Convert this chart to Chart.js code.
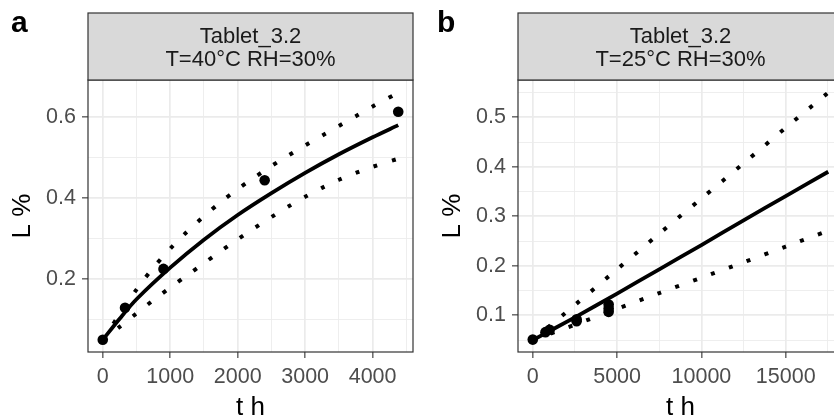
<!DOCTYPE html>
<html>
<head>
<meta charset="utf-8">
<script src="https://cdn.jsdelivr.net/npm/chart.js@4/dist/chart.umd.min.js"></script>
<style>
  html, body { margin: 0; padding: 0; background: #fff; overflow: hidden; width: 834px; height: 418px; }
  .panel { position: absolute; top: 0; width: 420px; height: 418px; }
  #wrapA { left: 0; }
  #wrapB { left: 430px; }
</style>
</head>
<body>
<div class="panel" id="wrapA"><canvas id="chartA" width="420" height="418"></canvas></div>
<div class="panel" id="wrapB"><canvas id="chartB" width="420" height="418"></canvas></div>
<script>
// panel a : T=40°C RH=30%
const tPointsA = [0, 330, 900, 2400, 4380];
const lPointsA = [0.050, 0.129, 0.225, 0.444, 0.613];
const tFitA = [0, 250, 500, 1000, 1500, 2000, 2500, 3000, 3500, 4000, 4380];
const lFitA = [0.050, 0.102, 0.150, 0.228, 0.297, 0.358, 0.412, 0.462, 0.508, 0.550, 0.580];
const tBandA = [0, 250, 500, 750, 1000, 1250, 1500, 1750, 2000, 2250, 2500, 2750, 3000, 3250, 3500, 3750, 4000, 4380];
const lUpperA = [0.050, 0.113, 0.174, 0.228, 0.275, 0.317, 0.355, 0.390, 0.422, 0.451, 0.479, 0.505, 0.530, 0.554, 0.578, 0.602, 0.626, 0.660];
const lLowerA = [0.050, 0.082, 0.115, 0.148, 0.179, 0.209, 0.239, 0.269, 0.298, 0.326, 0.353, 0.379, 0.403, 0.425, 0.445, 0.462, 0.477, 0.497];
const xTicksA = [0, 1000, 2000, 3000, 4000];
const xMinorA = [500, 1500, 2500, 3500, 4500];
const yTicksA = [0.2, 0.4, 0.6];
const yMinorA = [0.1, 0.3, 0.5];

// panel b : T=25°C RH=30%
const tPointsB = [0, 750, 1000, 2600, 2600, 4500, 4500, 4500];
const lPointsB = [0.051, 0.066, 0.071, 0.088, 0.092, 0.107, 0.114, 0.122];
const tFitB = [0, 2500, 5000, 7500, 10000, 12500, 15000, 17520];
const lFitB = [0.050, 0.096, 0.144, 0.193, 0.242, 0.292, 0.341, 0.390];
const lUpperB = [0.050, 0.121, 0.193, 0.265, 0.336, 0.407, 0.479, 0.550];
const lLowerB = [0.050, 0.081, 0.113, 0.145, 0.176, 0.207, 0.239, 0.271];
const xTicksB = [0, 5000, 10000, 15000];
const xMinorB = [2500, 7500, 12500, 17500];
const yTicksB = [0.1, 0.2, 0.3, 0.4, 0.5];
const yMinorB = [0.05, 0.15, 0.25, 0.35, 0.45, 0.55];

const FONT = '"Liberation Sans", Arial, sans-serif';

const zip = (xs, ys) => xs.map((x, i) => ({x: x, y: ys[i]}));

const tickList = (major, minor) =>
    major.map(v => ({value: v, major: true}))
        .concat(minor.map(v => ({value: v, major: false})))
        .sort((a, b) => a.value - b.value);

// grey strip on top of the panel + panel border + tag letter
const facetStrip = {
    id: 'facetStrip',
    afterDraw(chart, args, opts) {
        const ctx = chart.ctx;
        const a = chart.chartArea;
        ctx.save();
        ctx.strokeStyle = '#333333';
        ctx.lineWidth = 1.2;
        ctx.strokeRect(a.left, a.top, a.right - a.left, a.bottom - a.top);
        ctx.fillStyle = '#d9d9d9';
        ctx.fillRect(a.left, 13, a.right - a.left, a.top - 13);
        ctx.strokeRect(a.left, 13, a.right - a.left, a.top - 13);
        ctx.fillStyle = '#1a1a1a';
        ctx.font = '22px ' + FONT;
        ctx.textAlign = 'center';
        ctx.textBaseline = 'alphabetic';
        const cx = (a.left + a.right) / 2;
        ctx.fillText(opts.lines[0], cx, 42.5);
        ctx.fillText(opts.lines[1], cx, 65.5);
        ctx.fillStyle = '#000';
        ctx.font = 'bold 30px ' + FONT;
        ctx.textAlign = 'left';
        ctx.fillText(opts.tag, opts.tagX, 32);
        ctx.restore();
    }
};

const axis = (min, max, major, minor, title, isX) => ({
    type: 'linear',
    min: min,
    max: max,
    bounds: 'data',
    afterBuildTicks: s => { s.ticks = tickList(major, minor); },
    afterFit: s => { if (isX) s.height = 66; else s.width = 88; },
    grid: {
        color: '#ebebeb',
        lineWidth: c => (c.tick && c.tick.major) ? 1.7 : 0.85,
        tickColor: c => (c.tick && c.tick.major) ? '#333333' : 'rgba(0,0,0,0)',
        tickWidth: 1.1,
        tickLength: 6
    },
    border: { display: false },
    ticks: {
        autoSkip: false,
        maxRotation: 0,
        padding: 6,
        color: '#4d4d4d',
        font: { family: FONT, size: 21.5 },
        callback: function (value, index, ticks) {
            return ticks[index].major ? String(value) : '';
        }
    },
    title: {
        display: true,
        text: title,
        color: '#000',
        font: { family: FONT, size: 26, lineHeight: 1 },
        padding: isX ? { top: 0, bottom: -3 } : { top: 10, bottom: 0 }
    }
});

const makeChart = (id, d) => new Chart(document.getElementById(id), {
    type: 'scatter',
    data: {
        datasets: [
            { data: zip(d.tBand, d.upper), showLine: true, pointRadius: 0, borderColor: '#000', borderWidth: 4, borderDash: [4, 15], borderCapStyle: 'butt', tension: 0.3 },
            { data: zip(d.tBand, d.lower), showLine: true, pointRadius: 0, borderColor: '#000', borderWidth: 4, borderDash: [4, 15], borderCapStyle: 'butt', tension: 0.3 },
            { data: zip(d.tFit, d.fit), showLine: true, pointRadius: 0, borderColor: '#000', borderWidth: 3.8, tension: 0.3 },
            { data: zip(d.tPts, d.pts), showLine: false, pointRadius: 5.3, pointBorderWidth: 0, backgroundColor: '#000', borderColor: '#000' }
        ]
    },
    options: {
        responsive: false,
        animation: false,
        events: [],
        layout: { padding: { top: 80, right: 7, left: 0, bottom: 0 } },
        scales: {
            x: axis(d.xMin, d.xMax, d.xTicks, d.xMinor, 't h', true),
            y: axis(d.yMin, d.yMax, d.yTicks, d.yMinor, 'L %', false)
        },
        plugins: {
            legend: { display: false },
            tooltip: { enabled: false },
            facetStrip: { lines: d.strip, tag: d.tag, tagX: d.tagX }
        }
    },
    plugins: [facetStrip]
});

makeChart('chartA', {
    tPts: tPointsA, pts: lPointsA, tFit: tFitA, fit: lFitA,
    tBand: tBandA, upper: lUpperA, lower: lLowerA,
    xMin: -219, xMax: 4599, yMin: 0.0198, yMax: 0.6914,
    xTicks: xTicksA, xMinor: xMinorA, yTicks: yTicksA, yMinor: yMinorA,
    strip: ['Tablet_3.2', 'T=40°C RH=30%'], tag: 'a', tagX: 11
});

makeChart('chartB', {
    tPts: tPointsB, pts: lPointsB, tFit: tFitB, fit: lFitB,
    tBand: tFitB, upper: lUpperB, lower: lLowerB,
    xMin: -876, xMax: 18396, yMin: 0.0259, yMax: 0.5754,
    xTicks: xTicksB, xMinor: xMinorB, yTicks: yTicksB, yMinor: yMinorB,
    strip: ['Tablet_3.2', 'T=25°C RH=30%'], tag: 'b', tagX: 7
});
</script>
</body>
</html>
